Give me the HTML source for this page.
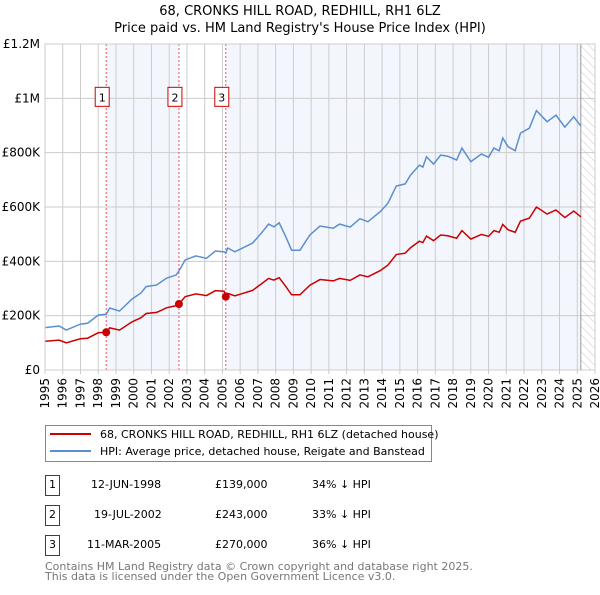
<!DOCTYPE html>
<html><head><meta charset="utf-8"><style>
body{margin:0;background:#fff;}
svg text{font-family:"DejaVu Sans","Liberation Sans",sans-serif;}
</style></head><body>
<svg id="c" width="600" height="590" xmlns="http://www.w3.org/2000/svg">
<defs><pattern id="hatch" width="6" height="6" patternUnits="userSpaceOnUse" patternTransform="rotate(-45)"><line x1="0" y1="0" x2="0" y2="6" stroke="#bbb" stroke-width="0.8"/></pattern></defs>
<text x="300" y="15" text-anchor="middle" font-size="13">68, CRONKS HILL ROAD, REDHILL, RH1 6LZ</text>
<text x="300" y="32" text-anchor="middle" font-size="13">Price paid vs. HM Land Registry's House Price Index (HPI)</text>
<g id="plot"></g>
<g>
<rect x="45.5" y="425.5" width="386" height="36" fill="#fff" stroke="#888"/>
<line x1="50" y1="434" x2="91" y2="434" stroke="#cc0000" stroke-width="2"/>
<text x="100" y="438" font-size="11">68, CRONKS HILL ROAD, REDHILL, RH1 6LZ (detached house)</text>
<line x1="50" y1="451" x2="91" y2="451" stroke="#5b8fd0" stroke-width="2"/>
<text x="100" y="455" font-size="11">HPI: Average price, detached house, Reigate and Banstead</text>
</g>
<g font-size="11">
<rect x="45.5" y="475.5" width="14" height="20" fill="#fff" stroke="#cc0000"/><text x="52.5" y="488" text-anchor="middle">1</text>
<text x="91" y="488">12-JUN-1998</text><text x="215" y="488">£139,000</text><text x="312" y="488">34% ↓ HPI</text>
<rect x="45.5" y="505.5" width="14" height="20" fill="#fff" stroke="#cc0000"/><text x="52.5" y="518" text-anchor="middle">2</text>
<text x="94" y="518">19-JUL-2002</text><text x="215" y="518">£243,000</text><text x="312" y="518">33% ↓ HPI</text>
<rect x="45.5" y="535.5" width="14" height="20" fill="#fff" stroke="#cc0000"/><text x="52.5" y="548" text-anchor="middle">3</text>
<text x="87" y="548">11-MAR-2005</text><text x="215" y="548">£270,000</text><text x="312" y="548">36% ↓ HPI</text>
</g>
<text x="45" y="570" font-size="11" fill="#777">Contains HM Land Registry data © Crown copyright and database right 2025.</text>
<text x="45" y="580" font-size="11" fill="#777">This data is licensed under the Open Government Licence v3.0.</text>
</svg>
<script>
const years=[1995,1995.8,1996.2,1997,1997.4,1998,1998.45,1998.65,1999.2,1999.9,2000.4,2000.7,2001.3,2001.85,2002.4,2002.55,2002.9,2003.5,2004.1,2004.6,2005.1,2005.19,2005.3,2005.7,2006.1,2006.7,2007.2,2007.6,2007.9,2008.2,2008.6,2008.9,2009.37,2009.93,2010.5,2011.25,2011.6,2012.2,2012.75,2013.2,2013.9,2014.33,2014.8,2015.3,2015.6,2016.1,2016.3,2016.5,2016.9,2017.3,2017.7,2018.2,2018.5,2019.0,2019.6,2020.0,2020.3,2020.6,2020.8,2021.1,2021.5,2021.8,2022.3,2022.7,2023.3,2023.8,2024.3,2024.8,2025.2];
const hpi=[156,162,147,169,172,202,205,228,217,261,283,307,313,338,350,365,405,420,411,438,435,430,449,435,448,467,504,537,527,542,486,441,441,497,530,522,537,526,557,546,583,614,677,685,717,754,747,785,758,791,787,773,817,767,795,783,817,807,854,822,807,872,890,955,914,938,894,932,898];
const paid=[106,110,100,115,117,137,139,155,147,177,192,208,212,229,237,243,270,280,274,292,290,270,282,273,281,293,317,337,331,340,305,277,277,312,333,328,337,330,350,343,366,386,425,430,450,474,469,493,476,497,494,485,513,482,499,492,513,507,536,516,507,548,559,600,574,589,561,585,564];
const saleYears=[1998.45,2002.55,2005.19];
const salePrices=[139,243,270];
const saleLabels=["1","2","3"];
const yTicks=[0,200,400,600,800,1000,1200];
const yTickLabels=["£0","£200K","£400K","£600K","£800K","£1M","£1.2M"];
const xTicks=[];for(let y=1995;y<=2026;y++)xTicks.push(y);
const X0=45,X1=595,Y0=370,Y1=44,YR0=1995,YR1=2026,VMAX=1200;
const sx=v=>X0+(v-YR0)/(YR1-YR0)*(X1-X0);
const sy=v=>Y0-v/VMAX*(Y0-Y1);
const NS="http://www.w3.org/2000/svg";
const g=document.getElementById('plot');
function mk(t,a,p){const e=document.createElementNS(NS,t);for(const k in a)e.setAttribute(k,a[k]);(p||g).appendChild(e);return e;}
// shading
let r=mk('rect',{x:sx(saleYears[0]),y:Y1,width:sx(saleYears[1])-sx(saleYears[0]),height:Y0-Y1,fill:'#eef3fc',opacity:0.7});


r=mk('rect',{x:sx(saleYears[2]),y:Y1,width:sx(2025.2)-sx(saleYears[2]),height:Y0-Y1,fill:'#eef3fc',opacity:0.7});


r=mk('rect',{x:sx(2025.2),y:Y1,width:X1-sx(2025.2),height:Y0-Y1,fill:'url(#hatch)'});


// grid
xTicks.forEach((t,i)=>{
 const l=mk('line',{x1:sx(t),x2:sx(t),y1:Y1,y2:Y0+4,stroke:'#ccc','stroke-width':1});
 
 
 const tx=mk('text',{x:0,y:0,'font-size':12,'text-anchor':'end',transform:`translate(${sx(t)+4},${Y0+8}) rotate(-90)`});
 tx.textContent=t;
 
 
});
yTicks.forEach((t,i)=>{
 const l=mk('line',{x1:X0,x2:X1,y1:sy(t),y2:sy(t),stroke:'#ccc','stroke-width':1});
 
 
 const tx=mk('text',{x:X0-5,y:sy(t)+4,'font-size':12,'text-anchor':'end'});
 tx.textContent=yTickLabels[i];
 
 
});
const vl=mk('line',{x1:sx(2025.2),x2:sx(2025.2),y1:Y1,y2:Y0,stroke:'#999','stroke-width':1});


// sale markers lines
saleYears.forEach((s,i)=>{
 const l=mk('line',{x1:sx(s),x2:sx(s),y1:Y1,y2:Y0,stroke:'#e55','stroke-width':1,'stroke-dasharray':'2,2'});
 
 
});
// series
const ph=mk('polyline',{points:years.map((y,i)=>sx(y)+','+sy(hpi[i])).join(' '),fill:'none',stroke:'#5b8fd0','stroke-width':1.5});


const pp=mk('polyline',{points:years.map((y,i)=>sx(y)+','+sy(paid[i])).join(' '),fill:'none',stroke:'#cc0000','stroke-width':1.5});


saleYears.forEach((s,i)=>{
 const c=mk('circle',{cx:sx(s),cy:sy(salePrices[i]),r:4,fill:'#cc0000'});
 
 
 const b=mk('rect',{x:sx(s)-11,y:sy(1000)-11,width:14,height:19,fill:'#fff',stroke:'#cc0000'});
 
 
 const t=mk('text',{x:sx(s)-4,y:sy(1000)+3,'font-size':11,'text-anchor':'middle'});
 t.textContent=saleLabels[i];
 
 
});
const fr=mk('rect',{x:X0,y:Y1,width:X1-X0,height:Y0-Y1,fill:'none',stroke:'#ccc'});


</script>
</body></html>
